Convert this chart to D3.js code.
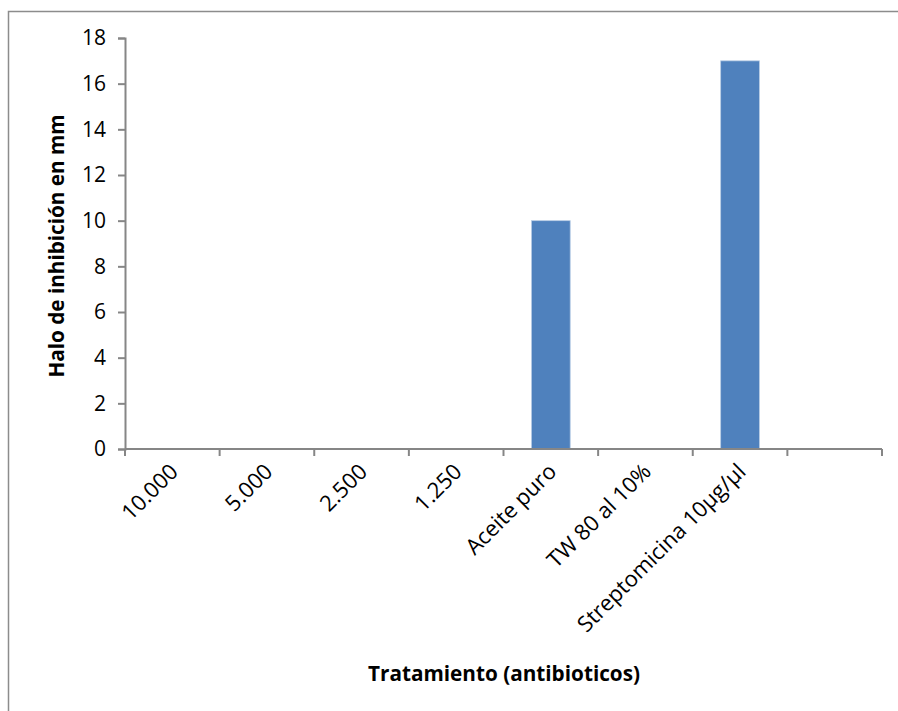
<!DOCTYPE html>
<html>
<head>
<meta charset="utf-8">
<script src="https://cdn.jsdelivr.net/npm/d3@7"></script>
<style>
  html, body { margin: 0; padding: 0; background: #fff; }
  svg { display: block; }
</style>
</head>
<body>
<script>
// Inhibition halo per treatment
const categories = ["10.000", "5.000", "2.500", "1.250", "Aceite puro", "TW 80 al 10%", "Streptomicina 10µg/µl", ""];
const values = [0, 0, 0, 0, 10, 0, 17, null];
const yTicks = [0, 2, 4, 6, 8, 10, 12, 14, 16, 18];

const W = 898, H = 711;
const svg = d3.select("body").append("svg").attr("width", W).attr("height", H);

// chart frame (extends past the right and bottom edges)
svg.append("rect")
  .attr("x", 8.5).attr("y", 11.5).attr("width", W + 10).attr("height", H + 10)
  .attr("fill", "none").attr("stroke", "#8c8c8c").attr("stroke-width", 1.5);

const plotLeft = 125, plotRight = 882, plotTop = 38, plotBottom = 449;
const x = d3.scaleBand().domain(categories.map((d, i) => i)).range([plotLeft, plotRight]).paddingInner(0).paddingOuter(0);
const y = d3.scaleLinear().domain([0, 18]).range([plotBottom, plotTop]);

const font = "'Open Sans', sans-serif";
const axisColor = "#868686";

// bars
const barW = x.bandwidth() * 0.41;
svg.append("g").selectAll("rect")
  .data(values.map((v, i) => ({ v, i })).filter(d => d.v))
  .join("rect")
  .attr("x", d => x(d.i) + (x.bandwidth() - barW) / 2)
  .attr("y", d => y(d.v))
  .attr("width", barW)
  .attr("height", d => y(0) - y(d.v))
  .attr("fill", "#4f81bd")
  .attr("stroke", "#b9cde5").attr("stroke-width", 0.8);

// y axis
const yAxis = svg.append("g").attr("transform", `translate(${plotLeft},0)`)
  .call(d3.axisLeft(y).tickValues(yTicks).tickSize(7).tickPadding(12));
yAxis.select(".domain").attr("stroke", axisColor).attr("stroke-width", 2);
yAxis.selectAll(".tick line").attr("stroke", axisColor).attr("stroke-width", 2);
yAxis.selectAll(".tick text").attr("font-family", font).attr("font-size", 21).attr("fill", "#000");

// x axis with ticks at band boundaries
const xAxisG = svg.append("g").attr("transform", `translate(0,${plotBottom})`);
xAxisG.append("line").attr("x1", plotLeft).attr("x2", plotRight).attr("stroke", axisColor).attr("stroke-width", 2);
xAxisG.selectAll("line.tk")
  .data(d3.range(categories.length + 1))
  .join("line").attr("class", "tk")
  .attr("x1", i => i < categories.length ? x(i) : plotRight)
  .attr("x2", i => i < categories.length ? x(i) : plotRight)
  .attr("y1", 0).attr("y2", 7)
  .attr("stroke", axisColor).attr("stroke-width", 2);

xAxisG.selectAll("text.lbl")
  .data(categories.map((c, i) => ({ c, i })))
  .join("text").attr("class", "lbl")
  .attr("transform", d => `translate(${x(d.i) + x.bandwidth() / 2 + 7},${24}) rotate(-45)`)
  .attr("text-anchor", "end")
  .attr("font-family", font).attr("font-size", 22)
  .attr("fill", "#000")
  .text(d => d.c);

// axis titles
svg.append("text")
  .attr("transform", "translate(64,246) rotate(-90)")
  .attr("text-anchor", "middle")
  .attr("font-family", font).attr("font-size", 22).attr("font-weight", "bold")
  .attr("textLength", 263).attr("lengthAdjust", "spacingAndGlyphs")
  .text("Halo de inhibición en mm");

svg.append("text")
  .attr("x", 504).attr("y", 681)
  .attr("text-anchor", "middle")
  .attr("font-family", font).attr("font-size", 22).attr("font-weight", "bold")
  .attr("textLength", 272).attr("lengthAdjust", "spacingAndGlyphs")
  .text("Tratamiento (antibioticos)");
</script>
</body>
</html>
